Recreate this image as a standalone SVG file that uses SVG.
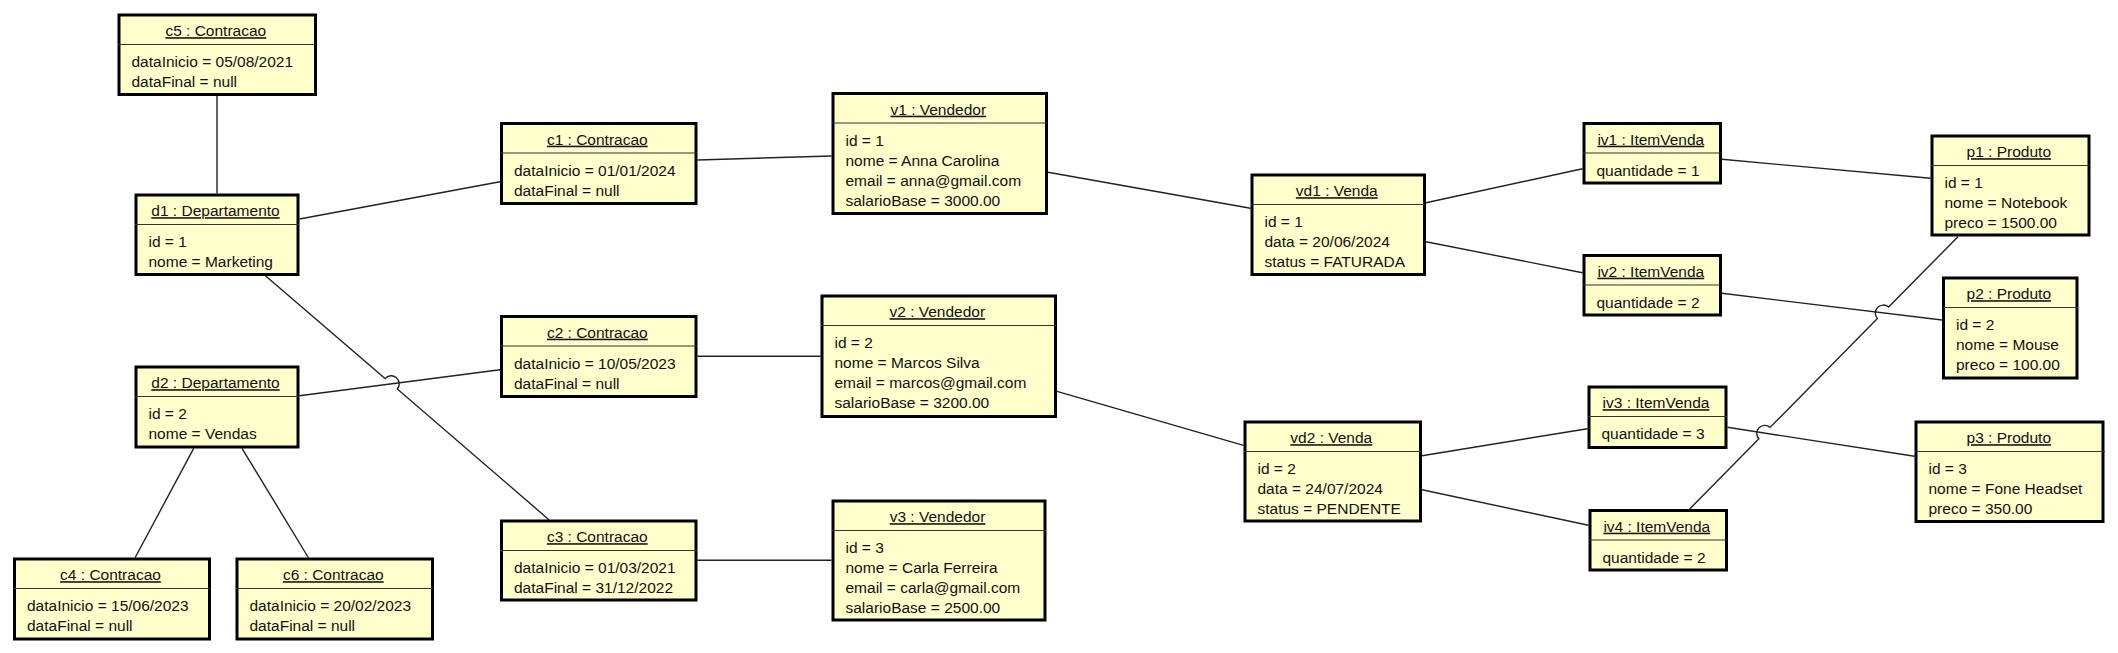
<svg xmlns="http://www.w3.org/2000/svg" width="2118" height="653" viewBox="0 0 2118 653">
<style>
.box{fill:#ffffcc;stroke:#000;stroke-width:3}
.div{stroke:#333;stroke-width:1.2}
text{font-family:"Liberation Sans",Arial,sans-serif;font-size:15.5px;fill:#111}
.t{text-anchor:middle;text-decoration:underline}
.c{fill:none;stroke:#222;stroke-width:1.4}
</style>
<rect width="2118" height="653" fill="#fff"/>
<g id="connectors">
<line class="c" x1="217" y1="96" x2="217" y2="193.5"/>
<line class="c" x1="299.5" y1="219" x2="500" y2="181.7"/>
<path class="c" d="M265.7,276 L385.1,378.6 A8,8 0 0 1 397.3,389 L548.9,519.7"/>
<line class="c" x1="299.5" y1="395.7" x2="500" y2="369.7"/>
<line class="c" x1="193.7" y1="448.3" x2="135.2" y2="557.5"/>
<line class="c" x1="242" y1="448.3" x2="308.3" y2="557.5"/>
<line class="c" x1="697.5" y1="160" x2="831.5" y2="156"/>
<line class="c" x1="697.5" y1="356.3" x2="820.5" y2="356.3"/>
<line class="c" x1="697.5" y1="560.3" x2="831.5" y2="560.3"/>
<line class="c" x1="1048" y1="172.3" x2="1250.5" y2="208.3"/>
<line class="c" x1="1057" y1="391.3" x2="1243.5" y2="445.3"/>
<line class="c" x1="1426" y1="202.7" x2="1582.5" y2="168.7"/>
<line class="c" x1="1426" y1="241.7" x2="1582.5" y2="272.7"/>
<line class="c" x1="1422" y1="455.7" x2="1587.5" y2="428.7"/>
<line class="c" x1="1422" y1="489.7" x2="1588.5" y2="525.3"/>
<line class="c" x1="1722" y1="159.3" x2="1930.5" y2="178.3"/>
<line class="c" x1="1722" y1="293.3" x2="1942" y2="320"/>
<line class="c" x1="1727.5" y1="427.3" x2="1914.5" y2="456.3"/>
<path class="c" d="M1689.7,509 L1758.9,438.8 A8,8 0 0 1 1770.1,427.4 L1877.4,318.5 A8,8 0 0 1 1888.6,307.1 L1958,236.7"/>
</g>
<g id="c5"><rect class="box" x="119" y="15" width="196.5" height="79.5"/><line class="div" x1="118" y1="44.5" x2="316" y2="44.5"/><text class="t" x="215.8" y="36.2">c5 : Contracao</text><text x="131.5" y="67">dataInicio = 05/08/2021</text><text x="131.5" y="87">dataFinal = null</text></g>
<g id="d1"><rect class="box" x="136" y="195" width="162" height="79.5"/><line class="div" x1="135" y1="224.5" x2="299" y2="224.5"/><text class="t" x="215.5" y="216.2">d1 : Departamento</text><text x="148.5" y="247">id = 1</text><text x="148.5" y="267">nome = Marketing</text></g>
<g id="d2"><rect class="box" x="136" y="367" width="162" height="80"/><line class="div" x1="135" y1="396.5" x2="299" y2="396.5"/><text class="t" x="215.5" y="388.2">d2 : Departamento</text><text x="148.5" y="419">id = 2</text><text x="148.5" y="439">nome = Vendas</text></g>
<g id="c4"><rect class="box" x="14.5" y="559" width="195" height="80"/><line class="div" x1="13" y1="588.5" x2="210" y2="588.5"/><text class="t" x="110.5" y="580.2">c4 : Contracao</text><text x="27" y="611">dataInicio = 15/06/2023</text><text x="27" y="631">dataFinal = null</text></g>
<g id="c6"><rect class="box" x="237" y="559" width="195.5" height="80"/><line class="div" x1="236" y1="588.5" x2="433" y2="588.5"/><text class="t" x="333.3" y="580.2">c6 : Contracao</text><text x="249.5" y="611">dataInicio = 20/02/2023</text><text x="249.5" y="631">dataFinal = null</text></g>
<g id="c1"><rect class="box" x="501.5" y="123.5" width="194.5" height="80"/><line class="div" x1="500" y1="153" x2="697" y2="153"/><text class="t" x="597.3" y="144.7">c1 : Contracao</text><text x="514" y="175.5">dataInicio = 01/01/2024</text><text x="514" y="195.5">dataFinal = null</text></g>
<g id="c2"><rect class="box" x="501.5" y="316.5" width="194.5" height="80"/><line class="div" x1="500" y1="346" x2="697" y2="346"/><text class="t" x="597.3" y="337.7">c2 : Contracao</text><text x="514" y="368.5">dataInicio = 10/05/2023</text><text x="514" y="388.5">dataFinal = null</text></g>
<g id="c3"><rect class="box" x="501.5" y="521" width="194.5" height="79"/><line class="div" x1="500" y1="550.5" x2="697" y2="550.5"/><text class="t" x="597.3" y="542.2">c3 : Contracao</text><text x="514" y="573">dataInicio = 01/03/2021</text><text x="514" y="593">dataFinal = 31/12/2022</text></g>
<g id="v1"><rect class="box" x="833" y="93.5" width="213.5" height="120"/><line class="div" x1="832" y1="123" x2="1047" y2="123"/><text class="t" x="938.3" y="114.7">v1 : Vendedor</text><text x="845.5" y="145.5">id = 1</text><text x="845.5" y="165.5">nome = Anna Carolina</text><text x="845.5" y="185.5">email = anna@gmail.com</text><text x="845.5" y="205.5">salarioBase = 3000.00</text></g>
<g id="v2"><rect class="box" x="822" y="296" width="233.5" height="120.5"/><line class="div" x1="821" y1="325.5" x2="1056" y2="325.5"/><text class="t" x="937.3" y="317.2">v2 : Vendedor</text><text x="834.5" y="348">id = 2</text><text x="834.5" y="368">nome = Marcos Silva</text><text x="834.5" y="388">email = marcos@gmail.com</text><text x="834.5" y="408">salarioBase = 3200.00</text></g>
<g id="v3"><rect class="box" x="833" y="501" width="212" height="119"/><line class="div" x1="832" y1="530.5" x2="1046" y2="530.5"/><text class="t" x="937.5" y="522.2">v3 : Vendedor</text><text x="845.5" y="553">id = 3</text><text x="845.5" y="573">nome = Carla Ferreira</text><text x="845.5" y="593">email = carla@gmail.com</text><text x="845.5" y="613">salarioBase = 2500.00</text></g>
<g id="vd1"><rect class="box" x="1252" y="175" width="172.5" height="99.5"/><line class="div" x1="1251" y1="204.5" x2="1425" y2="204.5"/><text class="t" x="1336.8" y="196.2">vd1 : Venda</text><text x="1264.5" y="227">id = 1</text><text x="1264.5" y="247">data = 20/06/2024</text><text x="1264.5" y="267">status = FATURADA</text></g>
<g id="vd2"><rect class="box" x="1245" y="422" width="175.5" height="99"/><line class="div" x1="1244" y1="451.5" x2="1421" y2="451.5"/><text class="t" x="1331.3" y="443.2">vd2 : Venda</text><text x="1257.5" y="474">id = 2</text><text x="1257.5" y="494">data = 24/07/2024</text><text x="1257.5" y="514">status = PENDENTE</text></g>
<g id="iv1"><rect class="box" x="1584" y="123.5" width="136.5" height="59.5"/><line class="div" x1="1583" y1="153" x2="1721" y2="153"/><text class="t" x="1650.8" y="144.7">iv1 : ItemVenda</text><text x="1596.5" y="175.5">quantidade = 1</text></g>
<g id="iv2"><rect class="box" x="1584" y="255.5" width="136.5" height="59.5"/><line class="div" x1="1583" y1="285" x2="1721" y2="285"/><text class="t" x="1650.8" y="276.7">iv2 : ItemVenda</text><text x="1596.5" y="307.5">quantidade = 2</text></g>
<g id="iv3"><rect class="box" x="1589" y="387" width="137" height="60.5"/><line class="div" x1="1588" y1="416.5" x2="1727" y2="416.5"/><text class="t" x="1656" y="408.2">iv3 : ItemVenda</text><text x="1601.5" y="439">quantidade = 3</text></g>
<g id="iv4"><rect class="box" x="1590" y="510.5" width="136.5" height="59.5"/><line class="div" x1="1589" y1="540" x2="1727" y2="540"/><text class="t" x="1656.8" y="531.7">iv4 : ItemVenda</text><text x="1602.5" y="562.5">quantidade = 2</text></g>
<g id="p1"><rect class="box" x="1932" y="136" width="157" height="99"/><line class="div" x1="1931" y1="165.5" x2="2089" y2="165.5"/><text class="t" x="2008.8" y="157.2">p1 : Produto</text><text x="1944.5" y="188">id = 1</text><text x="1944.5" y="208">nome = Notebook</text><text x="1944.5" y="228">preco = 1500.00</text></g>
<g id="p2"><rect class="box" x="1943.5" y="278" width="133.5" height="100"/><line class="div" x1="1943" y1="307.5" x2="2078" y2="307.5"/><text class="t" x="2008.8" y="299.2">p2 : Produto</text><text x="1956" y="330">id = 2</text><text x="1956" y="350">nome = Mouse</text><text x="1956" y="370">preco = 100.00</text></g>
<g id="p3"><rect class="box" x="1916" y="422" width="187" height="99.5"/><line class="div" x1="1915" y1="451.5" x2="2105" y2="451.5"/><text class="t" x="2008.8" y="443.2">p3 : Produto</text><text x="1928.5" y="474">id = 3</text><text x="1928.5" y="494">nome = Fone Headset</text><text x="1928.5" y="514">preco = 350.00</text></g>
</svg>
